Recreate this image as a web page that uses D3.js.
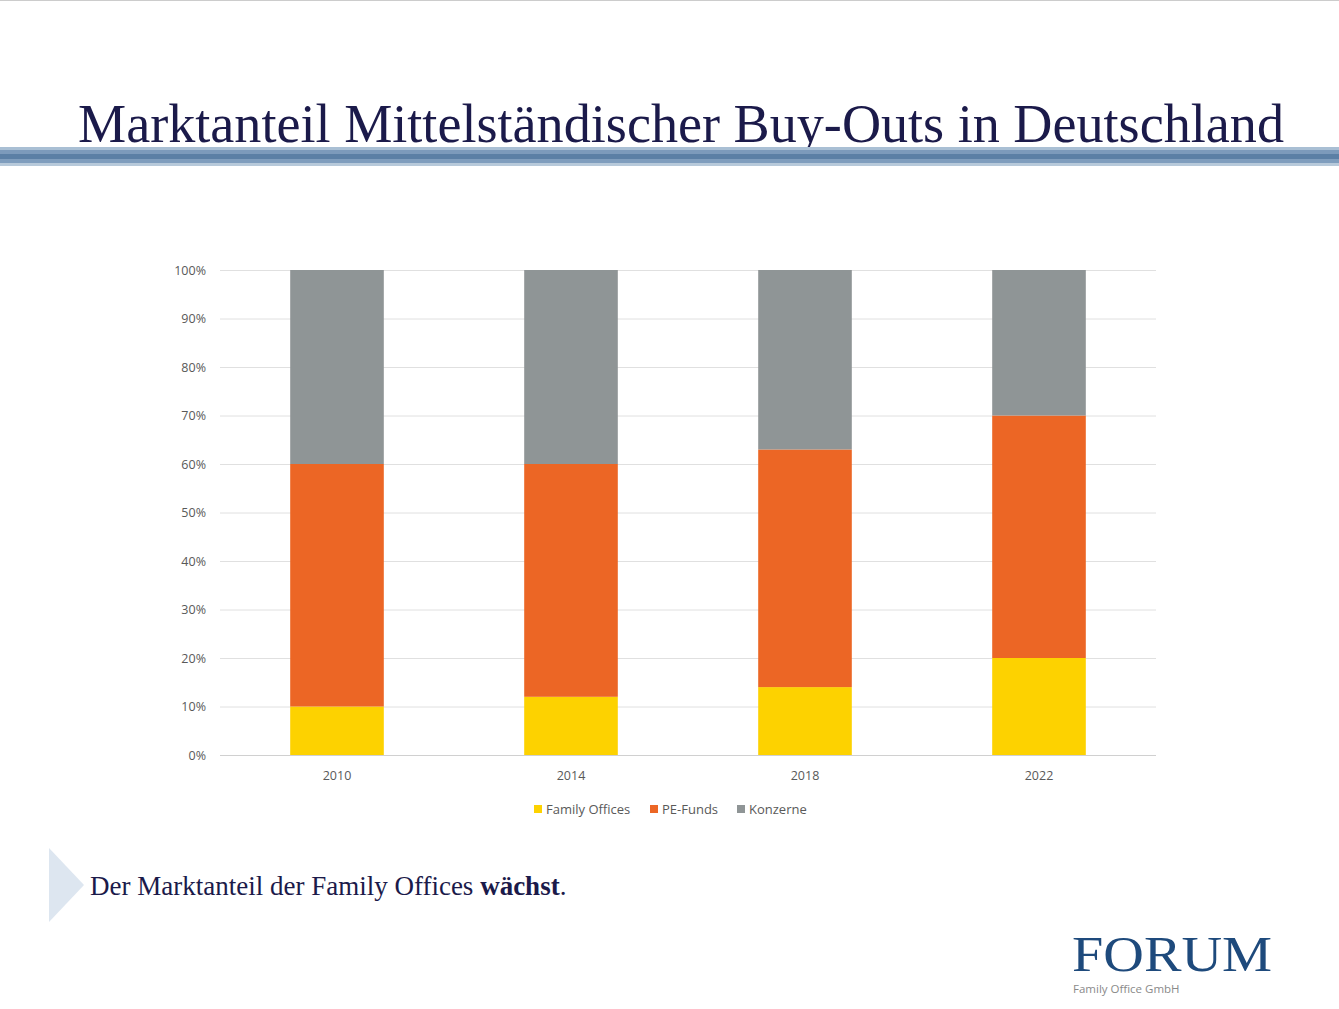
<!DOCTYPE html>
<html><head><meta charset="utf-8">
<script src="https://cdn.jsdelivr.net/npm/d3@7"></script>
<style>body{margin:0;background:#fff}</style>
</head><body><svg width="1339" height="1009"></svg>
<script>
var years = ["2010", "2014", "2018", "2022"];
var seriesNames = ["Family Offices", "PE-Funds", "Konzerne"];
var familyOffices = [10, 12, 14, 20];
var peFunds = [50, 48, 49, 50];
var konzerne = [40, 40, 37, 30];
var yTicks = [0, 10, 20, 30, 40, 50, 60, 70, 80, 90, 100];
var colors = ["#fdd200", "#ec6625", "#8f9596"];

var svg = d3.select("svg");
svg.append("rect").attr("x", 0).attr("y", 0).attr("width", 1339).attr("height", 1).attr("fill", "#ccc");

svg.append("text").attr("x", 78).attr("y", 142)
   .attr("font-family", "Liberation Serif").attr("font-size", 54).attr("fill", "#1b1a4a")
   .attr("textLength", 1206).attr("lengthAdjust", "spacingAndGlyphs")
   .text("Marktanteil Mittelständischer Buy-Outs in Deutschland");
var stripes = [[147, 3, "#a9bfd4"], [150, 4, "#7c9abb"], [154, 5, "#5b7fa5"], [159, 4, "#7f9dbd"], [163, 3, "#b7c9da"]];
stripes.forEach(function(s){
  svg.append("rect").attr("x", 0).attr("y", s[0]).attr("width", 1339).attr("height", s[1]).attr("fill", s[2]);
});

var table = years.map(function(y, i){
  return {year: y, "Family Offices": familyOffices[i], "PE-Funds": peFunds[i], "Konzerne": konzerne[i]};
});
var stack = d3.stack().keys(seriesNames)(table);

var x = d3.scaleBand().domain(years).range([220, 1156]).paddingInner(0.6).paddingOuter(0.3);
var yScale = d3.scaleLinear().domain([0, 100]).range([755, 270]);

svg.append("g").selectAll("line").data(yTicks).enter().append("line")
   .attr("x1", 220).attr("x2", 1156)
   .attr("y1", function(d){ return yScale(d) + 0.5; }).attr("y2", function(d){ return yScale(d) + 0.5; })
   .attr("stroke", function(d){ return d === 0 ? "#d0d0d0" : "#e0e0e0"; });

svg.append("g").selectAll("text").data(yTicks).enter().append("text")
   .attr("x", 206).attr("y", function(d){ return yScale(d) + 4.5; }).attr("text-anchor", "end")
   .attr("font-family", "Open Sans").attr("font-size", 12.5).attr("fill", "#595959")
   .text(function(d){ return d + "%"; });

svg.append("g").selectAll("g").data(stack).enter().append("g")
   .attr("fill", function(d, i){ return colors[i]; })
   .selectAll("rect").data(function(d){ return d; }).enter().append("rect")
   .attr("x", function(d){ return x(d.data.year); })
   .attr("width", x.bandwidth())
   .attr("y", function(d){ return yScale(d[1]); })
   .attr("height", function(d){ return yScale(d[0]) - yScale(d[1]); });

svg.append("g").selectAll("text").data(years).enter().append("text")
   .attr("x", function(d){ return x(d) + x.bandwidth() / 2; }).attr("y", 780).attr("text-anchor", "middle")
   .attr("font-family", "Open Sans").attr("font-size", 12.5).attr("fill", "#595959")
   .text(function(d){ return d; });

var legX = [534, 650, 737];
seriesNames.forEach(function(n, i){
  svg.append("rect").attr("x", legX[i]).attr("y", 805).attr("width", 8).attr("height", 8).attr("fill", colors[i]);
  svg.append("text").attr("x", legX[i] + 12).attr("y", 814)
     .attr("font-family", "Open Sans").attr("font-size", 13).attr("fill", "#595959").text(n);
});

svg.append("path").attr("d", "M49,848 L84,885 L49,922 Z").attr("fill", "#dde6f0");
var t = svg.append("text").attr("x", 90).attr("y", 895)
   .attr("font-family", "Liberation Serif").attr("font-size", 27).attr("fill", "#1b1a4a");
t.append("tspan").text("Der Marktanteil der Family Offices ");
t.append("tspan").attr("font-weight", "bold").text("wächst");
t.append("tspan").text(".");

svg.append("text").attr("x", 1072).attr("y", 971)
   .attr("font-family", "Liberation Serif").attr("font-size", 50).attr("fill", "#1e4a7c")
   .attr("textLength", 200).attr("lengthAdjust", "spacingAndGlyphs").text("FORUM");
svg.append("text").attr("x", 1073).attr("y", 993)
   .attr("font-family", "Open Sans").attr("font-size", 11.5).attr("fill", "#8a8a8a")
   .text("Family Office GmbH");
</script></body></html>
